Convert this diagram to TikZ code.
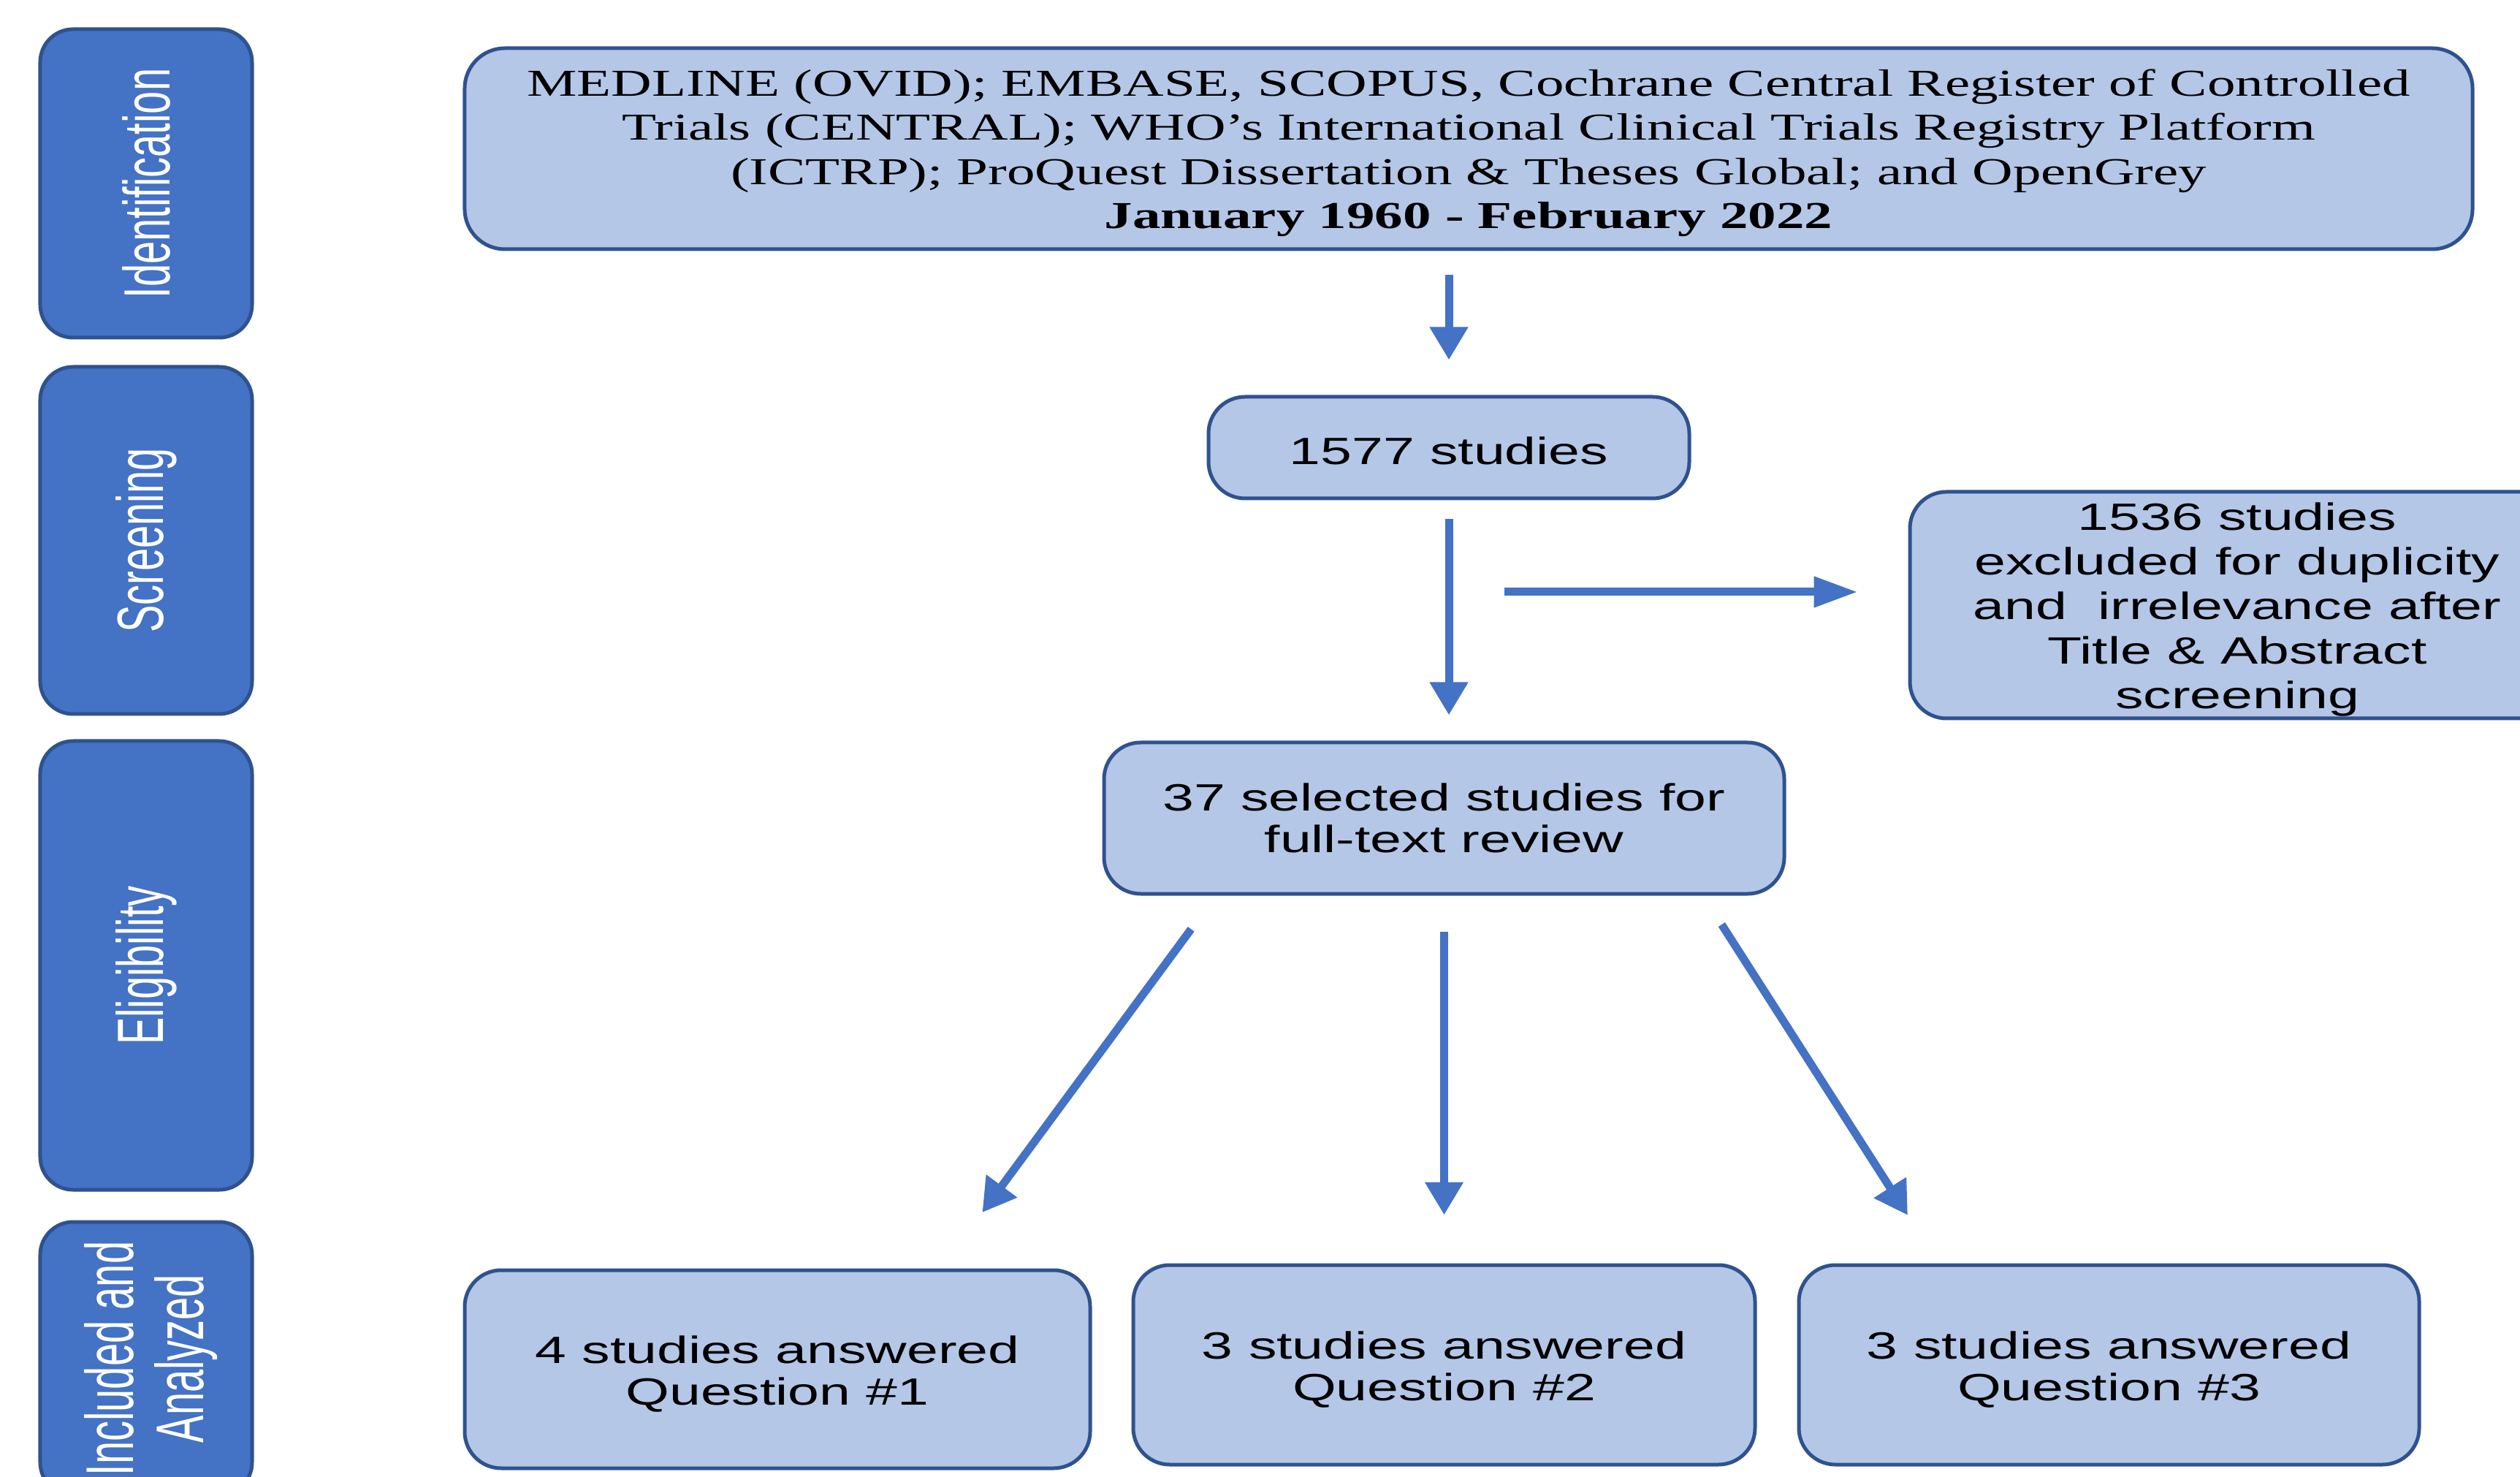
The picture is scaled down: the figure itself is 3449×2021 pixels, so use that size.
\documentclass[tikz,border=0pt]{standalone}
\usepackage{fontspec}
\setmainfont{Liberation Serif}
\newfontfamily\serw[FakeStretch=1.48]{Liberation Serif}
\newfontfamily\sansw[FakeStretch=1.48]{Liberation Sans}
\newfontfamily\sansn{Liberation Sans}
\usetikzlibrary{arrows.meta}
\definecolor{sidefill}{HTML}{4472C4}
\definecolor{boxfill}{HTML}{B4C7E7}
\definecolor{edgec}{HTML}{2F528F}
\definecolor{arrowc}{HTML}{4472C4}
\newcommand\lowtxt[2]{\raisebox{-#1}[\height][\depth]{\begin{tabular}{@{}c@{}}#2\end{tabular}}}
\begin{document}
\begin{tikzpicture}[x=0.2pt,y=-0.2pt,
 sidebox/.style={draw=edgec, fill=sidefill, line width=1pt, rounded corners=9pt, text=white, rotate=90, inner sep=0pt, align=center, font=\sansn\fontsize{11.2pt}{12.9pt}\selectfont},
 flowbox/.style={draw=edgec, fill=boxfill, line width=1pt, rounded corners=10pt, inner sep=0pt, align=center, font=\sansw\fontsize{10.4pt}{12pt}\selectfont},
 arr/.style={draw=arrowc, line width=2.2pt, -{Triangle[length=9pt,width=10pt]}},
 arrh/.style={draw=arrowc, line width=2.2pt, -{Triangle[length=12pt,width=8pt]}},
]
\useasboundingbox (0,0) rectangle (3449,2021);
\clip (0,0) rectangle (3449,2021);
\fill[white] (0,0) rectangle (3449,2021);

% side stage labels
\node[sidebox, minimum width=84.4pt, minimum height=58pt] (sid) at (200,251) {\scalebox{1}[1.6]{Identification}};
\node[sidebox, minimum width=95pt, minimum height=58pt] (sscr) at (200,739.5) {\scalebox{1}[1.6]{Screening}};
\node[sidebox, minimum width=122.8pt, minimum height=58pt] (selig) at (200,1321) {\scalebox{1}[1.6]{Eligibility}};
\node[sidebox, minimum width=74.8pt, minimum height=58pt, font=\sansn\fontsize{11.2pt}{11.7pt}\selectfont] (sinc) at (200,1859)
 {\raisebox{-2.2pt}[\height][\depth]{\scalebox{1}[1.65]{\begin{tabular}{@{}c@{}}Included and\\Analyzed\end{tabular}}}};

% flow boxes
\node[flowbox, minimum width=549.6pt, minimum height=55pt, rounded corners=11pt, font=\serw\fontsize{10.4pt}{12.1pt}\selectfont] (top) at (2010,203.5)
 {\lowtxt{1.3pt}{MEDLINE (OVID); EMBASE, SCOPUS, Cochrane Central Register of Controlled\\
  Trials (CENTRAL); WHO’s International Clinical Trials Registry Platform\\
  (ICTRP); ProQuest Dissertation \& Theses Global; and OpenGrey\\
  {\bfseries January 1960 - February 2022}}};
\node[flowbox, minimum width=131.6pt, minimum height=27.8pt] (n1577) at (1983,612.5) {\lowtxt{2.2pt}{1577 studies}};
\node[flowbox, minimum width=179.2pt, minimum height=62pt, font=\sansw\fontsize{10.4pt}{12.2pt}\selectfont] (excl) at (3062,828)
 {\lowtxt{1.4pt}{1536 studies\\excluded for duplicity\\and\ \ irrelevance after\\Title \& Abstract\\screening}};
\node[flowbox, minimum width=186.2pt, minimum height=41.4pt, font=\sansw\fontsize{10.4pt}{11.4pt}\selectfont] (n37) at (1976.5,1119.5)
 {\lowtxt{1.5pt}{37 selected studies for\\full-text review}};
\node[flowbox, minimum width=171.2pt, minimum height=54.2pt, font=\sansw\fontsize{10.4pt}{11.4pt}\selectfont] (q1) at (1064,1873.5)
 {\lowtxt{1.8pt}{4 studies answered\\Question \#1}};
\node[flowbox, minimum width=170.2pt, minimum height=54.6pt, font=\sansw\fontsize{10.4pt}{11.4pt}\selectfont] (q2) at (1976.5,1867.5)
 {\lowtxt{1.8pt}{3 studies answered\\Question \#2}};
\node[flowbox, minimum width=169.8pt, minimum height=54.6pt, font=\sansw\fontsize{10.4pt}{11.4pt}\selectfont] (q3) at (2886.5,1867.5)
 {\lowtxt{1.8pt}{3 studies answered\\Question \#3}};

% connectors
\draw[arr, shorten <=6.6pt, shorten >=9.6pt] (top.south -| n1577.north) -- (n1577.north);
\draw[arr, shorten <=5.2pt, shorten >=7pt] (n1577.south) -- (n1577.south |- n37.north);
\coordinate (hs) at (2059,810);
\draw[arrh, shorten >=13.8pt] (hs) -- (hs -| excl.west);
\draw[arr, shorten <=9.8pt, shorten >=13.2pt] (n37.south) -- (q2.north);
\draw[arr, shorten <=11.4pt, shorten >=19pt] ([xshift=-62.5pt]n37.south) -- ([xshift=44.8pt]q1.north);
\draw[arr, shorten <=9.4pt, shorten >=15.6pt] ([xshift=70.9pt]n37.south) -- ([xshift=-46.7pt]q3.north);
\end{tikzpicture}
\end{document}
